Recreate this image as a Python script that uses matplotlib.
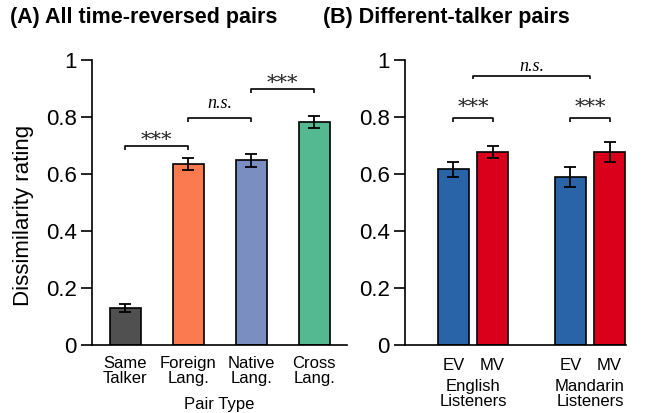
import matplotlib
matplotlib.use("Agg")
import matplotlib.pyplot as plt
import matplotlib.transforms as mtransforms

plt.rcParams['font.family'] = ['Liberation Sans', 'DejaVu Sans']

# Panel A: all time-reversed pairs
pair_types = ["Same\nTalker", "Foreign\nLang.", "Native\nLang.", "Cross\nLang."]
pair_means = [0.130, 0.635, 0.648, 0.782]
pair_errs = [0.015, 0.022, 0.022, 0.020]
pair_colors = ["#505050", "#fb7a50", "#7a8ec1", "#54b991"]

# Panel B: different-talker pairs
groups = ["English\nListeners", "Mandarin\nListeners"]
conditions = ["EV", "MV"]
ev_means = [0.616, 0.590]
ev_errs = [0.025, 0.035]
mv_means = [0.677, 0.678]
mv_errs = [0.022, 0.035]
cond_colors = ["#2a64a8", "#da001b"]

yticks = [0, 0.2, 0.4, 0.6, 0.8, 1.0]
ytick_labels = ["0", "0.2", "0.4", "0.6", "0.8", "1"]

W, H = 654, 413
fig = plt.figure(figsize=(W / 100, H / 100), dpi=100)

def px_axes(x0, x1, y0, y1):
    return fig.add_axes([x0 / W, 1 - y1 / H, (x1 - x0) / W, (y1 - y0) / H])

axA = px_axes(92, 347, 60, 345)
axB = px_axes(405, 626, 60, 345)

for ax in (axA, axB):
    ax.set_ylim(0, 1)
    ax.spines['top'].set_visible(False)
    ax.spines['right'].set_visible(False)
    for s in ('left', 'bottom'):
        ax.spines[s].set_linewidth(1.2)
    ax.set_yticks(yticks)
    ax.set_yticklabels(ytick_labels, fontsize=16)
    ax.tick_params(axis='y', length=8, width=1.2, pad=3)
    ax.tick_params(axis='x', length=0)

ekw = dict(ecolor='black', elinewidth=1.3, capsize=4, capthick=1.3)

def bracket(ax, x0, x1, y, label, serif_italic=False, dy=0.013, ty=0.0):
    ax.plot([x0, x0, x1, x1], [y - dy, y, y, y - dy], color='black', lw=1.2,
            clip_on=False, solid_capstyle='butt')
    if serif_italic:
        ax.text((x0 + x1) / 2, y + ty, label, ha='center', va='baseline',
                fontsize=13, family='Liberation Serif', style='italic',
                clip_on=False)
    else:
        ax.text((x0 + x1) / 2, y + ty, label, ha='center', va='baseline',
                fontsize=15, family='DejaVu Serif', color='#222222',
                clip_on=False)

# Panel A bars
xa = list(range(len(pair_types)))
axA.bar(xa, pair_means, width=0.5, color=pair_colors, edgecolor='black',
        linewidth=1.2, yerr=pair_errs, error_kw=ekw, zorder=2)
axA.set_xlim(-0.53, 3.52)
axA.set_xticks(xa)
axA.set_xticklabels(pair_types, fontsize=12, linespacing=0.95)
axA.tick_params(axis='x', pad=8)
axA.set_xlabel("Pair Type", fontsize=12, labelpad=8)
axA.set_ylabel("Dissimilarity rating", fontsize=16)
axA.yaxis.label.set_verticalalignment('center')
axA.yaxis.set_label_coords(-0.27, 0.453)

bracket(axA, 0, 1, 0.698, "***", ty=0.0)
bracket(axA, 1, 2, 0.795, "n.s.", serif_italic=True, ty=0.035)
bracket(axA, 2, 3, 0.898, "***", ty=0.0)

# Panel B bars
off, bw = 0.167, 0.265
xg = list(range(len(groups)))
axB.bar([g - off for g in xg], ev_means, width=bw, color=cond_colors[0],
        edgecolor='black', linewidth=1.2, yerr=ev_errs, error_kw=ekw, zorder=2)
axB.bar([g + off for g in xg], mv_means, width=bw, color=cond_colors[1],
        edgecolor='black', linewidth=1.2, yerr=mv_errs, error_kw=ekw, zorder=2)
axB.set_xlim(-0.581, 1.308)
tick_pos = []
tick_lab = []
for g in xg:
    tick_pos += [g - off, g + off]
    tick_lab += conditions
axB.set_xticks(tick_pos)
axB.set_xticklabels(tick_lab, fontsize=12)
axB.tick_params(axis='x', pad=9)
trans = mtransforms.blended_transform_factory(axB.transData, axB.transAxes)
for g, name in zip(xg, groups):
    axB.text(g, -0.12, name, transform=trans, ha='center', va='top',
             fontsize=12, linespacing=0.95)

for g in xg:
    bracket(axB, g - off, g + off, 0.795, "***", ty=0.018)
bracket(axB, 0, 1, 0.945, "n.s.", serif_italic=True, ty=0.018)

fig.text(10 / W, 1 - 17 / H, "(A) All time-reversed pairs", fontsize=15.5,
         fontweight='bold', ha='left', va='center')
fig.text(323 / W, 1 - 17 / H, "(B) Different-talker pairs", fontsize=15.5,
         fontweight='bold', ha='left', va='center')

fig.savefig("out.png", dpi=100)
